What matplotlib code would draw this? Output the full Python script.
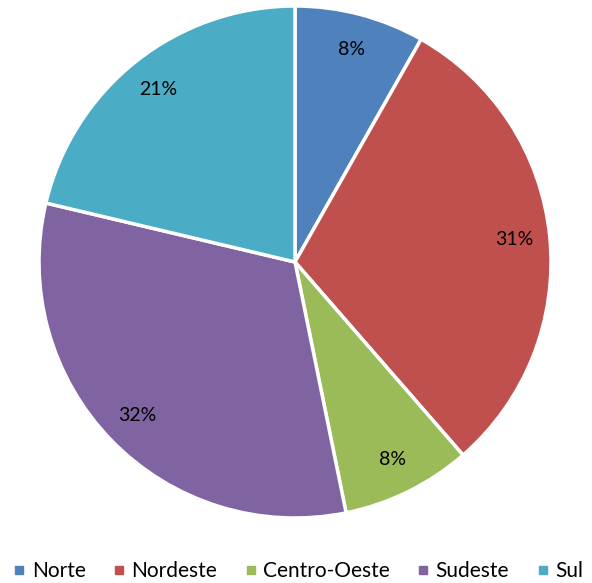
import matplotlib.pyplot as plt
from matplotlib.lines import Line2D

plt.rcParams['font.family'] = ['Lato', 'DejaVu Sans']

regioes = ['Norte', 'Nordeste', 'Centro-Oeste', 'Sudeste', 'Sul']
# fatias medidas na figura; rótulos como aparecem no gráfico
valores = [8.2, 30.4, 8.2, 31.9, 21.3]
rotulos = ['8%', '31%', '8%', '32%', '21%']
cores = ['#4F81BD', '#C0504D', '#9BBB59', '#8064A2', '#4BACC6']

fig = plt.figure(figsize=(5.92, 5.83), dpi=100)
ax = fig.add_axes([39 / 592, 65 / 583, 512 / 592, 512 / 583])

wedges, _, autotexts = ax.pie(valores, colors=cores, startangle=90, counterclock=False,
                              autopct='%1.0f%%', pctdistance=0.86, radius=1.0,
                              wedgeprops=dict(edgecolor='white', linewidth=2.5),
                              textprops=dict(fontsize=14, color='black'))
for t, r in zip(autotexts, rotulos):
    t.set_text(r)
ax.set_xlim(-1, 1)
ax.set_ylim(-1, 1)
ax.set_aspect('equal')

handles = [Line2D([], [], marker='s', linestyle='', color=c, markersize=6) for c in cores]
fig.legend(handles, regioes, loc='center', bbox_to_anchor=(0.5, 1 - 571 / 583),
           ncol=5, frameon=False, fontsize=15, handletextpad=0.1,
           columnspacing=1.1, handlelength=1.0)

fig.savefig('out.png', dpi=100)
